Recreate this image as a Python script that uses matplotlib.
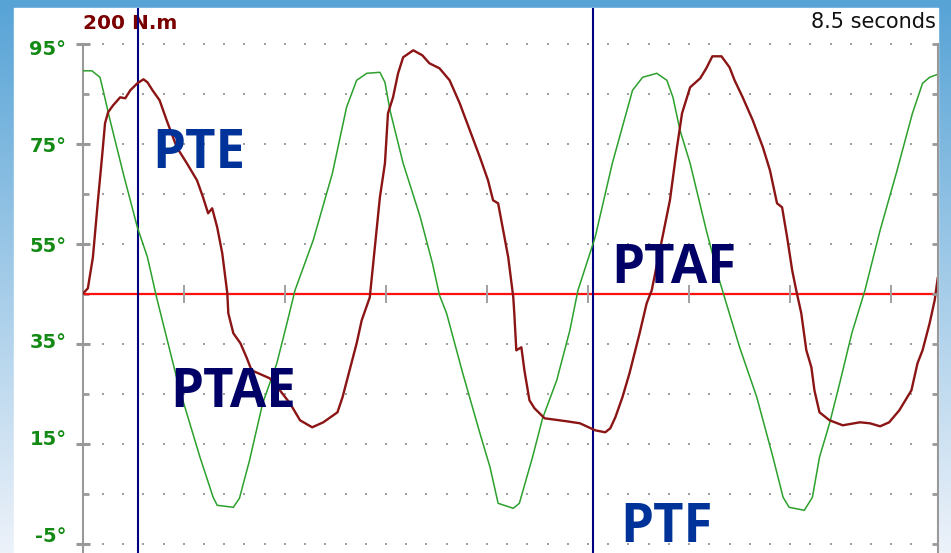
import matplotlib.pyplot as plt
import numpy as np
from matplotlib.patches import Rectangle
from matplotlib.transforms import ScaledTranslation

# knee angle (deg) against time (s)
angle_t = [0.00, 0.09, 0.17, 0.20, 0.27, 0.40, 0.54, 0.64, 0.73, 0.96, 1.16, 1.29, 1.33,
           1.49, 1.55, 1.65, 1.78, 1.92, 2.02, 2.10, 2.28, 2.47, 2.61, 2.71, 2.81, 2.94,
           2.99, 3.04, 3.17, 3.34, 3.46, 3.53, 3.60, 3.76, 3.93, 4.03, 4.11, 4.26, 4.32,
           4.45, 4.55, 4.69, 4.82, 4.90, 5.07, 5.24, 5.44, 5.54, 5.68, 5.78, 5.84, 5.91,
           6.01, 6.17, 6.30, 6.35, 6.50, 6.67, 6.83, 6.93, 6.99, 7.14, 7.22, 7.29, 7.39,
           7.49, 7.61, 7.74, 7.89, 8.05, 8.21, 8.31, 8.38, 8.46]
angle_deg = [89.7, 89.7, 88.4, 85.9, 79.8, 69.2, 58.4, 52.4, 44.4, 25.8, 12.4, 4.4, 2.8,
             2.4, 4.2, 11.8, 23.2, 31.2, 39.2, 45.8, 55.8, 69.2, 82.4, 87.8, 89.2, 89.4,
             87.4, 81.8, 71.2, 60.4, 51.2, 44.8, 41.2, 29.2, 17.2, 10.4, 3.2, 2.2, 3.2,
             12.4, 20.2, 27.8, 37.8, 45.8, 56.4, 71.2, 85.8, 88.4, 89.2, 87.8, 84.4, 77.8,
             71.2, 57.8, 47.8, 44.4, 34.4, 24.4, 12.4, 4.4, 2.4, 1.8, 4.4, 12.4, 19.2,
             27.2, 37.2, 45.8, 57.8, 69.2, 81.2, 87.2, 88.4, 89.0]

# torque trace, drawn on the same degree scale (200 N.m full range)
torque_t = [0.00, 0.05, 0.10, 0.15, 0.19, 0.22, 0.25, 0.30, 0.37, 0.42, 0.47, 0.54, 0.60,
            0.64, 0.69, 0.76, 0.83, 0.93, 1.03, 1.13, 1.19, 1.24, 1.28, 1.33, 1.38, 1.43,
            1.44, 1.49, 1.56, 1.62, 1.67, 1.85, 1.95, 2.05, 2.15, 2.27, 2.38, 2.52, 2.57,
            2.64, 2.71, 2.76, 2.84, 2.89, 2.94, 2.99, 3.02, 3.07, 3.12, 3.17, 3.27, 3.36,
            3.43, 3.53, 3.63, 3.73, 3.83, 3.93, 4.01, 4.06, 4.11, 4.16, 4.21, 4.26, 4.27,
            4.29, 4.34, 4.37, 4.42, 4.47, 4.57, 4.79, 4.92, 5.07, 5.17, 5.22, 5.27, 5.34,
            5.41, 5.46, 5.51, 5.58, 5.63, 5.71, 5.81, 5.88, 5.93, 6.01, 6.11, 6.17, 6.23,
            6.32, 6.40, 6.45, 6.53, 6.63, 6.73, 6.80, 6.87, 6.92, 6.97, 7.02, 7.06, 7.11,
            7.16, 7.21, 7.24, 7.29, 7.39, 7.52, 7.69, 7.79, 7.89, 7.98, 8.08, 8.20, 8.26,
            8.31, 8.38, 8.43, 8.46]
torque_val = [45.1, 46.2, 52.4, 63.8, 72.4, 79.2, 81.4, 82.8, 84.4, 84.2, 85.8, 87.2, 88.0,
              87.4, 85.8, 83.8, 79.8, 74.4, 71.2, 67.8, 64.4, 61.2, 62.2, 58.4, 53.2, 45.2,
              41.2, 37.2, 35.2, 32.4, 29.8, 28.2, 25.8, 23.2, 19.8, 18.4, 19.4, 21.4, 24.4,
              29.8, 35.2, 39.8, 44.4, 54.4, 64.4, 71.2, 81.2, 84.4, 89.2, 92.4, 93.8, 92.8,
              91.2, 90.2, 87.8, 83.2, 77.8, 72.4, 67.8, 63.8, 63.2, 57.8, 52.4, 44.4, 41.2,
              33.8, 34.4, 29.8, 23.8, 22.2, 20.2, 19.6, 19.2, 17.8, 17.4, 18.2, 20.4, 24.4,
              29.2, 33.2, 37.2, 43.2, 45.8, 53.8, 63.8, 74.4, 81.2, 86.4, 88.2, 90.2, 92.6,
              92.6, 90.4, 87.8, 84.4, 79.8, 74.4, 69.8, 63.2, 62.4, 56.4, 49.8, 45.8, 41.2,
              33.8, 30.4, 25.8, 21.4, 19.8, 18.8, 19.4, 19.2, 18.6, 19.4, 21.8, 25.8, 31.2,
              33.8, 39.2, 43.8, 48.2]

zero_torque = 45
phase_marks = [0.55, 5.05]
second_ticks = [1, 2, 3, 4, 5, 6, 7, 8]
major_deg = [-5, 15, 35, 55, 75, 95]
minor_deg = [5, 25, 45, 65, 85]
major_labels = ['-5°', '15°', '35°', '55°', '75°', '95°']

labels = ['PTE', 'PTAE', 'PTAF', 'PTF']
label_t = [1.15, 1.49, 5.85, 5.78]
label_deg = [70.3, 22.5, 47.3, -4.5]
label_colors = ['#003399', '#000066', '#000066', '#003399']

W, H = 951, 553
fig = plt.figure(figsize=(W / 100, H / 100), dpi=100)

# slide background: blue gradient with a white panel
bg = fig.add_axes([0, 0, 1, 1])
frac = np.linspace(0, 1, H)[:, None, None]
top = np.array([0.34, 0.64, 0.84])
bottom = np.array([0.93, 0.95, 0.98])
bg.imshow(top + (bottom - top) * frac, aspect='auto', extent=[0, 1, 0, 1], origin='upper')
bg.add_patch(Rectangle((14 / W, 0), (938 - 14) / W, 545 / H, color='white'))
bg.set_xlim(0, 1)
bg.set_ylim(0, 1)
bg.axis('off')

ax = fig.add_axes([82.8 / W, 0, (937.7 - 82.8) / W, 545 / H])
ax.patch.set_alpha(0)
ax.set_xlim(0, 8.46)
ax.set_ylim(-6.74, 102.26)

# dotted grid
gx, gy = np.meshgrid(np.arange(0.2, 8.3, 0.2), np.arange(-5, 96, 10))
ax.scatter(gx.ravel(), gy.ravel(), s=2.5, marker='s', color='#a0a0a0', linewidths=0, zorder=1)

ax.axhline(zero_torque, color='#ff1010', lw=1.6, zorder=2)
ax.plot(second_ticks, [zero_torque] * len(second_ticks), ls='none', marker='|',
        ms=13.5, mew=1.4, color='#a0a0a0', zorder=3)
for x in phase_marks:
    ax.axvline(x, color='#000080', lw=1.5, zorder=4)

ax.plot(angle_t, angle_deg, color='#2ca02c', lw=1.1, zorder=5)
ax.plot(torque_t, torque_val, color='#8b1414', lw=1.7, zorder=6)

# left axis
for s in ['top', 'bottom', 'right']:
    ax.spines[s].set_visible(False)
ax.spines['left'].set_bounds(-6.74, 95)
ax.spines['left'].set_color('#999999')
ax.spines['left'].set_linewidth(1.5)
ax.set_xticks([])
ax.set_yticks(major_deg)
ax.set_yticklabels(major_labels)
ax.set_yticks(minor_deg, minor=True)
ax.tick_params(axis='y', which='major', direction='inout', length=9.5, width=2.2,
               color='#999999', pad=7, labelcolor='#138a13', labelsize=14)
ax.tick_params(axis='y', which='minor', direction='in', length=4.5, width=2.0,
               color='#999999')
# labels drift upward slightly toward the bottom of the scale
shifts = [10, 7, 4, 0, 0, -3]
for lab, dy in zip(ax.get_yticklabels(), shifts):
    lab.set_fontweight('bold')
    lab.set_transform(lab.get_transform() + ScaledTranslation(0, dy / 100, fig.dpi_scale_trans))

# right axis
rax = ax.twinx()
rax.set_ylim(ax.get_ylim())
for s in ['top', 'bottom', 'left']:
    rax.spines[s].set_visible(False)
rax.spines['right'].set_bounds(-6.74, 95)
rax.spines['right'].set_color('#999999')
rax.spines['right'].set_linewidth(1.5)
rax.set_yticks(major_deg + minor_deg)
rax.set_yticklabels([])
rax.tick_params(axis='y', direction='in', length=4.5, width=2.0, color='#999999')

# scale captions
ax.text(0.0, 98.1, '200 N.m', ha='left', va='baseline', color='#7a0000',
        fontsize=14.5, fontweight='bold')
ax.text(8.44, 98.3, '8.5 seconds', ha='right', va='baseline', color='#111111',
        fontsize=15)

for txt, t, d, c in zip(labels, label_t, label_deg, label_colors):
    ax.text(t, d, txt, ha='center', va='baseline', color=c, fontsize=38,
            fontweight='bold', family=['Open Sans', 'DejaVu Sans'], zorder=7)

fig.savefig('out.png', dpi=100)
